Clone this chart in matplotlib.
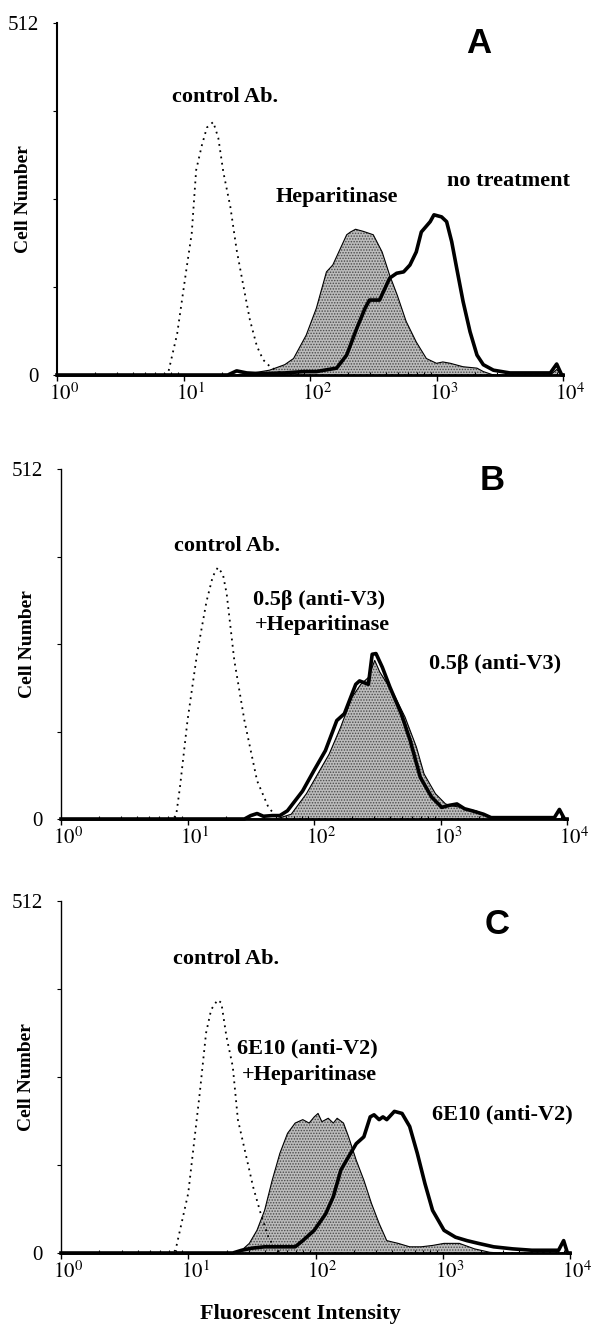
import numpy as np
import matplotlib
matplotlib.use("Agg")
import matplotlib.pyplot as plt
import matplotlib.transforms as mtransforms
from matplotlib.ticker import LogLocator, NullFormatter

plt.rcParams['font.family'] = 'serif'
plt.rcParams['font.serif'] = ['Liberation Serif', 'DejaVu Serif']
plt.rcParams['mathtext.fontset'] = 'stix'
plt.rcParams['hatch.linewidth'] = 0.7

# x values are log10(fluorescent intensity), y values are cell counts (0-512)
# panel A
a_ctrl_x = [0.0, 0.85, 0.88, 0.95, 1.02, 1.065, 1.10, 1.145, 1.185, 1.235, 1.275, 1.315, 1.37, 1.42, 1.475, 1.525, 1.58, 1.63, 1.685, 1.74, 1.80, 4.0]
a_ctrl_y = [0, 0, 4, 60, 150, 206, 298, 334, 360, 368, 345, 295, 245, 182, 128, 80, 42, 22, 12, 6, 0, 0]
a_hep_x = [0.0, 1.40, 1.55, 1.68, 1.80, 1.87, 1.97, 2.05, 2.13, 2.18, 2.24, 2.29, 2.32, 2.36, 2.42, 2.50, 2.57, 2.63, 2.69, 2.76, 2.84, 2.92, 3.00, 3.05, 3.11, 3.21, 3.32, 3.37, 3.45, 3.90, 3.95, 3.99, 4.0]
a_hep_y = [0, 0, 3, 7, 15, 24, 58, 97, 150, 160, 184, 204, 208, 212, 209, 204, 179, 145, 116, 78, 48, 24, 17, 19, 17, 12, 10, 5, 0, 0, 8, 0, 0]
a_none_x = [0.0, 1.35, 1.42, 1.50, 1.60, 1.80, 1.95, 2.05, 2.21, 2.29, 2.37, 2.435, 2.47, 2.55, 2.58, 2.63, 2.685, 2.74, 2.79, 2.84, 2.88, 2.95, 2.98, 3.04, 3.08, 3.12, 3.16, 3.21, 3.265, 3.32, 3.37, 3.45, 3.58, 3.90, 3.95, 3.99, 4.0]
a_none_y = [0, 0, 6, 3, 2, 3, 5, 5, 10, 29, 68, 97, 109, 109, 121, 141, 148, 150, 160, 179, 208, 223, 233, 230, 223, 194, 155, 107, 63, 29, 15, 7, 3, 3, 16, 0, 0]

# panel B
b_ctrl_x = [0.0, 0.88, 0.91, 0.94, 1.00, 1.075, 1.15, 1.20, 1.24, 1.28, 1.31, 1.37, 1.45, 1.55, 1.64, 1.70, 1.78, 4.0]
b_ctrl_y = [0, 0, 5, 46, 144, 241, 318, 355, 368, 358, 329, 232, 144, 56, 17, 4, 0, 0]
b_hep_x = [0.0, 1.70, 1.82, 1.94, 2.03, 2.12, 2.21, 2.30, 2.37, 2.43, 2.48, 2.52, 2.63, 2.72, 2.81, 2.87, 2.96, 3.04, 3.10, 3.16, 3.22, 3.28, 3.37, 3.43, 4.0]
b_hep_y = [0, 0, 7, 37, 66, 95, 134, 178, 197, 207, 232, 215, 183, 149, 105, 66, 37, 22, 19, 17, 14, 12, 5, 0, 0]
b_ab_x = [0.0, 1.45, 1.50, 1.55, 1.60, 1.67, 1.73, 1.79, 1.91, 2.00, 2.09, 2.18, 2.24, 2.33, 2.36, 2.43, 2.46, 2.49, 2.54, 2.60, 2.69, 2.76, 2.84, 2.93, 3.01, 3.07, 3.13, 3.19, 3.25, 3.34, 3.40, 3.60, 3.90, 3.94, 3.98, 4.0]
b_ab_y = [0, 0, 5, 8, 4, 5, 5, 12, 41, 71, 100, 144, 154, 197, 202, 197, 241, 242, 222, 193, 154, 115, 61, 32, 17, 20, 22, 15, 12, 7, 2, 2, 2, 14, 0, 0]

# panel C
c_ctrl_x = [0.0, 0.87, 0.90, 1.00, 1.09, 1.14, 1.18, 1.23, 1.26, 1.30, 1.35, 1.39, 1.45, 1.51, 1.57, 1.63, 1.69, 1.75, 4.0]
c_ctrl_y = [0, 0, 4, 87, 232, 320, 354, 368, 364, 315, 271, 194, 145, 96, 57, 23, 4, 0, 0]
c_hep_x = [0.0, 1.38, 1.42, 1.48, 1.54, 1.60, 1.66, 1.72, 1.78, 1.84, 1.90, 1.95, 1.99, 2.02, 2.05, 2.10, 2.14, 2.17, 2.22, 2.26, 2.32, 2.38, 2.44, 2.50, 2.56, 2.65, 2.74, 2.83, 2.92, 3.01, 3.13, 3.25, 3.37, 3.45, 4.0]
c_hep_y = [0, 0, 4, 14, 33, 62, 106, 145, 174, 189, 194, 189, 198, 203, 191, 196, 189, 196, 189, 169, 135, 106, 72, 43, 18, 14, 9, 9, 11, 14, 14, 6, 1, 0, 0]
c_ab_x = [0.0, 1.35, 1.42, 1.50, 1.60, 1.70, 1.84, 1.90, 1.99, 2.08, 2.14, 2.20, 2.26, 2.32, 2.38, 2.43, 2.46, 2.50, 2.53, 2.56, 2.62, 2.68, 2.74, 2.80, 2.86, 2.92, 3.01, 3.10, 3.19, 3.28, 3.40, 3.55, 3.70, 3.91, 3.95, 3.98, 4.0]
c_ab_y = [0, 0, 4, 7, 9, 9, 9, 18, 33, 57, 82, 121, 140, 159, 169, 198, 201, 194, 198, 194, 206, 203, 184, 145, 101, 62, 33, 23, 18, 14, 9, 6, 4, 4, 18, 0, 0]

x_ticks = [1, 10, 100, 1000, 10000]
x_ticklabels = ['$10^{0}$', '$10^{1}$', '$10^{2}$', '$10^{3}$', '$10^{4}$']

# text labels: (text, log10 x, count, horizontal alignment)
a_labels = [('control Ab.', 1.33, 405, 'center'), ('Heparitinase', 2.21, 259, 'center'),
            ('no treatment', 3.57, 282, 'center')]
b_labels = [('control Ab.', 1.31, 400, 'center'), ('0.5\u03b2 (anti-V3)', 1.52, 321, 'left'),
            ('+Heparitinase', 1.53, 284, 'left'), ('0.5\u03b2 (anti-V3)', 3.43, 227, 'center')]
c_labels = [('control Ab.', 1.30, 428, 'center'), ('6E10 (anti-V2)', 1.38, 298, 'left'),
            ('+Heparitinase', 1.42, 259, 'left'), ('6E10 (anti-V2)', 3.47, 201, 'center')]


def px_rect(left, right, top, bottom):
    return [left / 595, 1 - bottom / 1325, (right - left) / 595, (bottom - top) / 1325]


def draw_panel(rect, ctrl, hep, ab, letter, letter_pos, labels, spine_w):
    ax = fig.add_axes(rect)
    hx = np.power(10.0, hep[0])
    ax.fill_between(hx, 0, hep[1], facecolor='#bcbcbc', edgecolor='#4a4a4a',
                    hatch='......', linewidth=0, zorder=1)
    ax.plot(hx, hep[1], color='black', lw=0.8, zorder=3)
    ax.plot(np.power(10.0, ctrl[0]), ctrl[1], color='black', lw=1.3,
            linestyle=(0, (1, 2.5)), zorder=2)
    ax.plot(np.power(10.0, ab[0]), ab[1], color='black', lw=2.6, zorder=4,
            clip_on=False, solid_joinstyle='round')

    ax.set_xscale('log')
    ax.set_xlim(1, 10000)
    ax.set_ylim(0, 512)
    ax.spines['top'].set_visible(False)
    ax.spines['right'].set_visible(False)
    ax.spines['left'].set_linewidth(spine_w)
    ax.spines['bottom'].set_linewidth(2.0)

    ax.set_yticks([0, 128, 256, 384, 512], labels=['0', '', '', '', '512'])
    ax.tick_params(axis='y', direction='out', length=3, width=0.8, pad=10, labelsize=15)
    ax.set_xticks(x_ticks, labels=x_ticklabels)
    ax.xaxis.set_minor_locator(LogLocator(base=10, subs=np.arange(2, 10)))
    ax.xaxis.set_minor_formatter(NullFormatter())
    ax.tick_params(axis='x', which='major', direction='out', length=4, width=1.0, pad=2, labelsize=15)
    ax.tick_params(axis='x', which='minor', direction='in', length=2.5, width=0.8)
    shift = mtransforms.ScaledTranslation(0.07, 0, fig.dpi_scale_trans)
    for lab in ax.get_xticklabels():
        lab.set_transform(lab.get_transform() + shift)

    ax.set_ylabel('Cell Number', fontsize=14, fontweight='bold')
    ax.yaxis.set_label_coords(-0.067, 0.5)
    ax.yaxis.label.set_verticalalignment('center')

    for txt, lx, ly, ha in labels:
        ax.text(10 ** lx, ly, txt, fontsize=16, fontweight='bold', ha=ha, va='center')
    ax.text(10 ** letter_pos[0], letter_pos[1], letter, fontsize=25, fontweight='bold',
            family='Liberation Sans', ha='center', va='center')
    return ax


fig = plt.figure(figsize=(5.95, 13.25), dpi=100)

draw_panel(px_rect(57, 563, 23, 375), (a_ctrl_x, a_ctrl_y), (a_hep_x, a_hep_y),
           (a_none_x, a_none_y), 'A', (3.33, 482), a_labels, 1.5)
draw_panel(px_rect(61, 567, 469, 819), (b_ctrl_x, b_ctrl_y), (b_hep_x, b_hep_y),
           (b_ab_x, b_ab_y), 'B', (3.41, 495), b_labels, 1.0)
ax_c = draw_panel(px_rect(61, 570, 901, 1253), (c_ctrl_x, c_ctrl_y), (c_hep_x, c_hep_y),
                  (c_ab_x, c_ab_y), 'C', (3.43, 478), c_labels, 1.0)

ax_c.set_xlabel('Fluorescent Intensity', fontsize=16, fontweight='bold')
ax_c.xaxis.set_label_coords((300 - 61) / 509, -0.173)
ax_c.xaxis.label.set_verticalalignment('center')

fig.savefig('out.png', dpi=100)
